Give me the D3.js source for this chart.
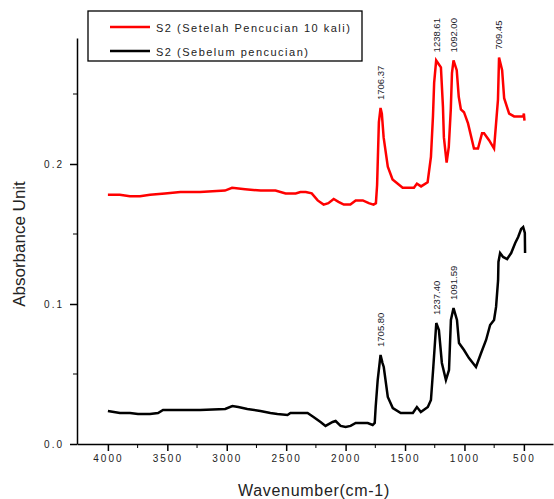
<!DOCTYPE html>
<html>
<head>
<meta charset="utf-8">
<script src="https://cdn.jsdelivr.net/npm/d3@7"></script>
<style>
  body { margin: 0; background: #fff; }
  svg { display: block; font-family: Arial, "Liberation Sans", sans-serif; }
</style>
</head>
<body>
<svg id="chart" width="554" height="499"></svg>
<script>
// S2 setelah pencucian 10 kali (red)  [wavenumber, absorbance]
const setelah = [
  [4000,0.178],[3900,0.178],[3815,0.177],[3730,0.177],[3645,0.178],[3520,0.179],
  [3390,0.180],[3225,0.180],[3015,0.181],[2955,0.183],[2845,0.182],[2715,0.181],
  [2590,0.181],[2505,0.179],[2420,0.179],[2380,0.180],[2335,0.180],[2285,0.179],
  [2235,0.174],[2185,0.171],[2145,0.172],[2100,0.175],[2060,0.173],[2015,0.171],
  [1960,0.171],[1915,0.174],[1855,0.174],[1805,0.172],[1765,0.171],[1745,0.172],
  [1735,0.185],[1720,0.230],[1706,0.240],[1695,0.236],[1680,0.219],[1645,0.198],
  [1605,0.189],[1520,0.183],[1425,0.183],[1400,0.186],[1365,0.184],[1310,0.187],
  [1282,0.205],[1265,0.234],[1255,0.258],[1238,0.274],[1222,0.272],[1198,0.269],
  [1181,0.241],[1173,0.219],[1150,0.201],[1132,0.212],[1115,0.239],[1105,0.265],
  [1092,0.274],[1065,0.267],[1048,0.248],[1030,0.239],[1004,0.237],[970,0.229],
  [920,0.211],[886,0.211],[852,0.222],[835,0.222],[793,0.217],[751,0.211],
  [734,0.229],[718,0.246],[709,0.276],[683,0.267],[666,0.247],[624,0.236],
  [582,0.234],[505,0.234],[500,0.236],[495,0.231]
];

// S2 sebelum pencucian (black)
const sebelum = [
  [4000,0.0236],[3899,0.0221],[3814,0.0221],[3747,0.0214],[3646,0.0214],[3578,0.0221],
  [3536,0.0243],[3308,0.0243],[3224,0.0243],[3013,0.025],[2953,0.0271],[2903,0.0264],
  [2827,0.025],[2717,0.0236],[2633,0.0221],[2574,0.0214],[2489,0.0207],[2464,0.0221],
  [2320,0.0221],[2270,0.0193],[2211,0.0157],[2169,0.0129],[2109,0.0157],[2084,0.0164],
  [2042,0.0129],[2000,0.0121],[1958,0.0129],[1915,0.015],[1814,0.015],[1772,0.0136],
  [1755,0.015],[1747,0.0264],[1730,0.0457],[1706,0.0636],[1690,0.058],[1679,0.055],
  [1645,0.0336],[1603,0.0257],[1536,0.0221],[1434,0.0221],[1400,0.0264],[1367,0.0229],
  [1308,0.0264],[1282,0.0314],[1262,0.055],[1237,0.0864],[1215,0.0814],[1190,0.0579],
  [1156,0.0457],[1130,0.0529],[1114,0.0886],[1092,0.0971],[1063,0.0886],[1046,0.0721],
  [1004,0.0671],[962,0.0614],[903,0.055],[860,0.065],[818,0.0743],[784,0.085],
  [751,0.0886],[734,0.0979],[717,0.117],[714,0.13],[700,0.1364],[675,0.1336],
  [641,0.1321],[607,0.1364],[573,0.1436],[548,0.1479],[523,0.1536],[506,0.155],
  [492,0.1507],[490,0.1364]
];

const setelahPeaks = [1706.37, 1238.61, 1092.00, 709.45];
const sebelumPeaks = [1705.80, 1237.40, 1091.59];

const seriesNames = ["S2 (Setelah Pencucian 10 kali)", "S2 (Sebelum pencucian)"];
const seriesColors = ["#ff0000", "#000000"];

const xMajor = [4000, 3500, 3000, 2500, 2000, 1500, 1000, 500];
const xMinor = [3750, 3250, 2750, 2250, 1750, 1250, 750];
const yMajor = [0, 0.1, 0.2];
const yMinor = [0.05, 0.15, 0.25];

const svg = d3.select("#chart");

const x = d3.scaleLinear().domain([4260, 255]).range([77, 553]);
const y = d3.scaleLinear().domain([0, 0.29]).range([444, 38]);

// axes
const gx = svg.append("g").attr("transform", "translate(0,444)");
gx.call(d3.axisBottom(x).tickValues(xMajor).tickSize(7).tickSizeOuter(0).tickFormat(d3.format("d")));
gx.selectAll(".tick text").attr("dy", "0.6em").attr("y", 12)
  .style("font-size", "10px").style("letter-spacing", "2px").attr("fill", "#222");
gx.selectAll(".minor").data(xMinor).enter().append("line")
  .attr("x1", d => x(d)).attr("x2", d => x(d)).attr("y1", 0).attr("y2", 4).attr("stroke", "#000");

const gy = svg.append("g").attr("transform", "translate(77,0)");
gy.call(d3.axisLeft(y).tickValues(yMajor).tickSize(7).tickSizeOuter(0).tickFormat(d3.format(".1f")));
gy.selectAll(".tick text").attr("x", -13)
  .style("font-size", "10px").style("letter-spacing", "2px").attr("fill", "#222");
gy.selectAll(".minor").data(yMinor).enter().append("line")
  .attr("y1", d => y(d)).attr("y2", d => y(d)).attr("x1", 0).attr("x2", -4).attr("stroke", "#000");

svg.selectAll(".domain, .tick line").attr("stroke", "#000").attr("stroke-width", 1.5);

// axis titles
svg.append("text")
  .attr("transform", "translate(25,244) rotate(-90)")
  .attr("text-anchor", "middle")
  .style("font-size", "17px")
  .attr("fill", "#222")
  .text("Absorbance Unit");

svg.append("text")
  .attr("x", 314).attr("y", 496)
  .attr("text-anchor", "middle")
  .style("font-size", "16px").style("letter-spacing", "0.7px")
  .attr("fill", "#222")
  .text("Wavenumber(cm-1)");

// lines
const line = d3.line().x(d => x(d[0])).y(d => y(d[1]));

[setelah, sebelum].forEach(function (data, i) {
  svg.append("path")
    .datum(data)
    .attr("d", line)
    .attr("fill", "none")
    .attr("stroke", seriesColors[i])
    .attr("stroke-width", 2.5)
    .attr("stroke-linejoin", "miter");
});

// peak labels
function peakY(data, p) {
  var near = data.filter(d => Math.abs(d[0] - p) < 12);
  return d3.max(near, d => d[1]);
}

[[setelah, setelahPeaks], [sebelum, sebelumPeaks]].forEach(function (pair) {
  var data = pair[0];
  pair[1].forEach(function (p) {
    var px = x(p), py = y(peakY(data, p)) - 8;
    svg.append("text")
      .attr("transform", "translate(" + (px + 3.5) + "," + py + ") rotate(-90)")
      .style("font-size", "9.5px")
      .attr("fill", "#1b1b2b")
      .text(p.toFixed(2));
  });
});

// legend
const legend = svg.append("g");
legend.append("rect")
  .attr("x", 88).attr("y", 11).attr("width", 274).attr("height", 50)
  .attr("fill", "#fff").attr("stroke", "#000").attr("stroke-width", 1.3);

seriesNames.forEach(function (name, i) {
  var ly = 27 + i * 24;
  legend.append("line")
    .attr("x1", 110).attr("x2", 150).attr("y1", ly).attr("y2", ly)
    .attr("stroke", seriesColors[i]).attr("stroke-width", 2.5);
  legend.append("text")
    .attr("x", 156).attr("y", ly + 4.5)
    .style("font-size", "11px").style("letter-spacing", "1.5px")
    .attr("fill", "#222")
    .text(name);
});
</script>
</body>
</html>
